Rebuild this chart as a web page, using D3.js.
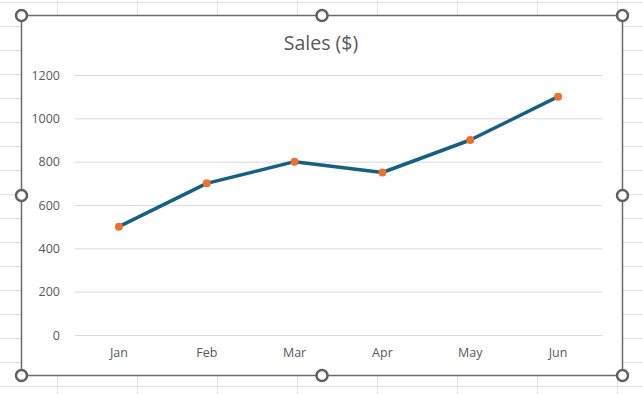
<!DOCTYPE html>
<html>
<head>
<meta charset="utf-8">
<script src="https://cdn.jsdelivr.net/npm/d3@7"></script>
<style>
    body { margin: 0; background: #fff; }
    svg { display: block; }
    text { font-family: "Open Sans", "Noto Sans", sans-serif; fill: #595959; }
</style>
</head>
<body>
<svg id="chart" width="643" height="394"></svg>
<script>
const months = ["Jan", "Feb", "Mar", "Apr", "May", "Jun"];
const sales = [500, 700, 800, 750, 900, 1100];
const yTicks = [0, 200, 400, 600, 800, 1000, 1200];

const width = 643, height = 394;
const box = { x: 21, y: 15, w: 601, h: 360 };
const plot = { left: 75, right: 602, top: 75, bottom: 335 };

const svg = d3.select("#chart");

// spreadsheet cells behind the chart
const sheet = svg.append("g").attr("stroke", "#e1e1e1").attr("stroke-width", 1);
sheet.selectAll("line.col")
    .data(d3.range(57, width, 80))
    .join("line")
    .attr("x1", d => d + 0.5).attr("x2", d => d + 0.5)
    .attr("y1", 0).attr("y2", height);
sheet.selectAll("line.row")
    .data(d3.range(2, height, 24))
    .join("line")
    .attr("x1", 0).attr("x2", width)
    .attr("y1", d => d + 0.5).attr("y2", d => d + 0.5);

// chart area
svg.append("rect")
    .attr("x", box.x + 0.5).attr("y", box.y + 0.5)
    .attr("width", box.w).attr("height", box.h)
    .attr("fill", "#fff")
    .attr("stroke", "#6b6b6b")
    .attr("stroke-width", 1.5);

const x = d3.scaleBand().domain(months).range([plot.left, plot.right]);
const y = d3.scaleLinear().domain([0, 1200]).range([plot.bottom, plot.top]);

// gridlines + y labels
const yAxis = svg.append("g")
    .attr("transform", `translate(${plot.left},0)`)
    .call(d3.axisLeft(y).tickValues(yTicks).tickSize(-(plot.right - plot.left)).tickPadding(15).tickFormat(d3.format("d")));
yAxis.select(".domain").remove();
yAxis.selectAll(".tick line").attr("stroke", "#d9d9d9");
yAxis.selectAll(".tick text")
    .attr("font-size", 12.5)
    .attr("font-family", null);

// x labels
const xAxis = svg.append("g")
    .attr("transform", `translate(0,${plot.bottom})`)
    .call(d3.axisBottom(x).tickSize(0).tickPadding(13));
xAxis.select(".domain").remove();
xAxis.selectAll(".tick text")
    .attr("font-size", 12.5)
    .attr("font-family", null);

svg.append("text")
    .attr("x", 321)
    .attr("y", 50)
    .attr("text-anchor", "middle")
    .attr("font-size", 19.5)
    .text("Sales ($)");

const cx = d => x(d) + x.bandwidth() / 2;

svg.append("path")
    .datum(sales)
    .attr("fill", "none")
    .attr("stroke", "#156082")
    .attr("stroke-width", 3.5)
    .attr("stroke-linejoin", "round")
    .attr("d", d3.line().x((d, i) => cx(months[i])).y(d => y(d)));

svg.selectAll("circle.pt")
    .data(sales)
    .join("circle")
    .attr("class", "pt")
    .attr("cx", (d, i) => cx(months[i]))
    .attr("cy", d => y(d))
    .attr("r", 4)
    .attr("fill", "#e97132");

// selection handles
const hx = [box.x, box.x + box.w / 2, box.x + box.w];
const hy = [box.y, box.y + box.h / 2, box.y + box.h];
const handles = [];
hx.forEach(a => hy.forEach(b => {
    if (!(a === hx[1] && b === hy[1])) handles.push([a, b]);
}));
svg.selectAll("circle.handle")
    .data(handles)
    .join("circle")
    .attr("class", "handle")
    .attr("cx", d => d[0] + 0.5)
    .attr("cy", d => d[1] + 0.5)
    .attr("r", 5.5)
    .attr("fill", "#fff")
    .attr("stroke", "#606060")
    .attr("stroke-width", 2.5);
</script>
</body>
</html>
